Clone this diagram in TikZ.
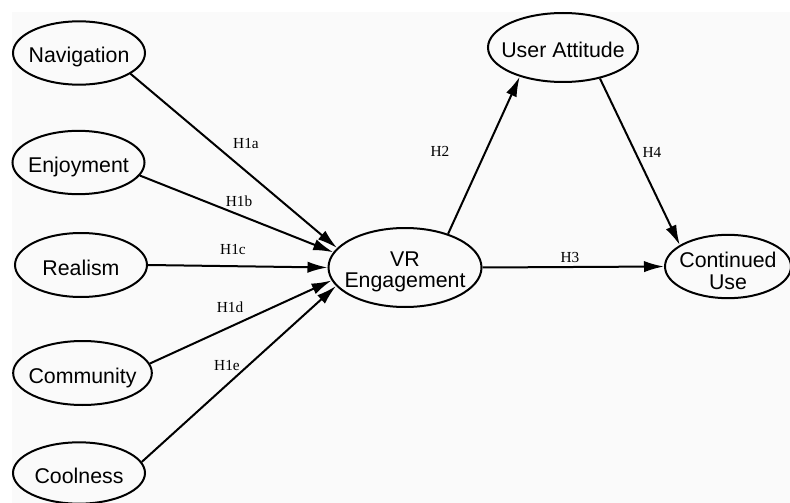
\documentclass[tikz,border=0pt]{standalone}
\usepackage{fontspec}
\setmainfont{Liberation Serif}
\setsansfont{Liberation Sans}
\usetikzlibrary{shapes.geometric, arrows.meta, positioning}
\definecolor{bgcol}{RGB}{250, 250, 250}

\begin{document}
\begin{tikzpicture}[
    x=0.75pt, y=-0.75pt,
    construct/.style = {ellipse, draw=black, line width=1.5pt, inner sep=0pt,
                        minimum width=99pt, minimum height=47.5pt},
    every label/.style = {font=\sffamily\fontsize{16}{16}\selectfont, align=center, yshift=-3.4pt},
    word/.style = {text height=11.6pt, text depth=3.4pt},
    arrow/.style = {line width=1.5pt, -{Latex[length=15pt, width=8.5pt]}},
    hyp/.style = {font=\fontsize{11.5}{12}\selectfont, inner sep=1pt}
]

    % Canvas
    \useasboundingbox (0,0) rectangle (790,503);
    \fill[bgcol] (12,12) rectangle (790,503);

    % ANTECEDENTS
    \node[construct, label={[word]center:Navigation}] (nav) at (79,53) {};
    \node[construct, label={[word]center:Enjoyment}] (enj) at (78.5,162.5) {};
    \node[construct, minimum height=48pt, label={[word]center:Realism}] (real) at (81,265) {};
    \node[construct, minimum width=104pt, minimum height=48pt, label={[word]center:Community}] (comm) at (82.5,373) {};
    \node[construct, minimum height=46pt, label={[word]center:Coolness}] (cool) at (79,473) {};

    % MEDIATORS
    \node[construct, minimum width=114.75pt, minimum height=59.25pt, label={center:VR\\Engagement}] (vr) at (405,267.5) {};
    \node[construct, minimum width=112.5pt, minimum height=51.75pt, label={[word]center:User Attitude}] (ua) at (563,47.5) {};

    % OUTCOME
    \node[construct, minimum width=94.5pt, label={center:Continued\\Use}] (cu) at (728,266.5) {};

    % ARROWS - Hypotheses
    \draw[arrow] (nav.-22) -- (vr.164);
    \draw[arrow] (enj.-12) -- (vr.168);
    \draw[arrow] (real.0) -- (vr.180);
    \draw[arrow] (comm.8) -- (vr.-170);
    \draw[arrow] (cool.10) -- (vr.-165);
    \draw[arrow] (vr.38) -- (ua.-146);
    \draw[arrow] (vr.0) -- (cu.180);
    \draw[arrow] (ua.-40) -- (cu.156);

    % Path labels
    \node[hyp] (h1a) at (246,144) {H1a};
    \node[hyp] (h1b) at (239,201) {H1b};
    \node[hyp] (h1c) at (233,250) {H1c};
    \node[hyp] (h1d) at (230,307) {H1d};
    \node[hyp] (h1e) at (227,366) {H1e};
    \node[hyp] (h2) at (440,151) {H2};
    \node[hyp] (h3) at (570,257) {H3};
    \node[hyp] (h4) at (652,152) {H4};

\end{tikzpicture}
\end{document}
